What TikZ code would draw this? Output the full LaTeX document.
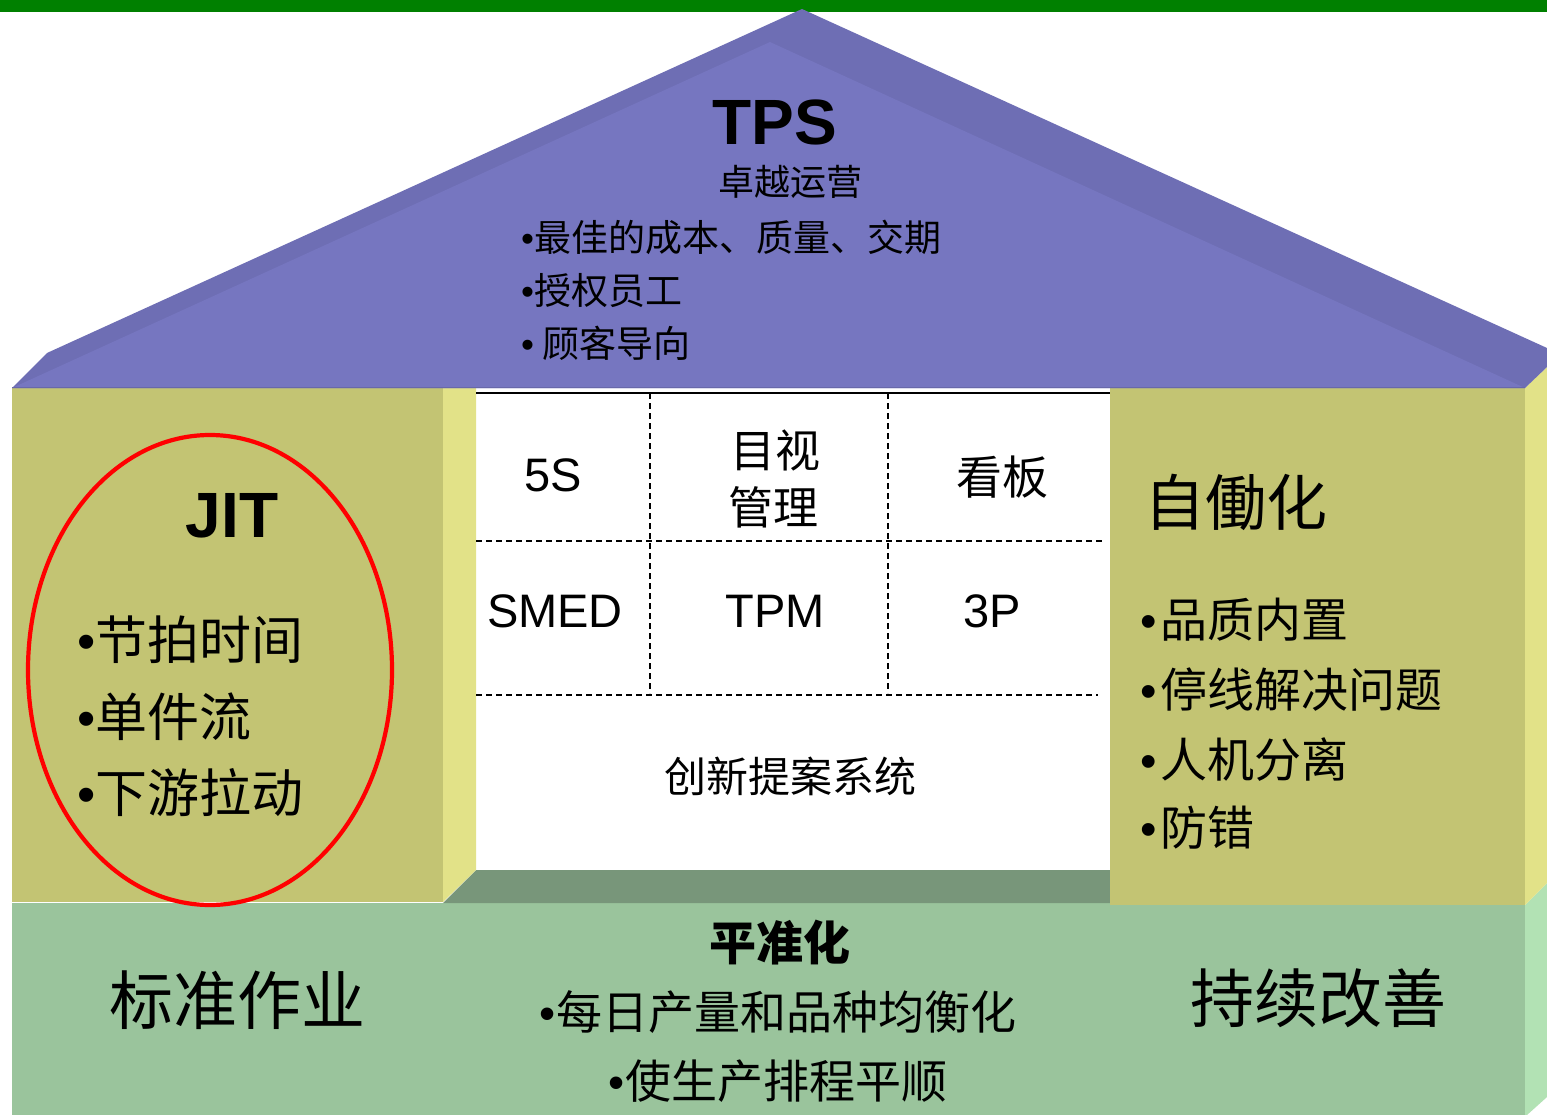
\documentclass[tikz,border=0pt]{standalone}
\usepackage{fontspec}
\setmainfont{Liberation Sans}
\newfontfamily\cjk{Noto Sans CJK SC}
\definecolor{topgreen}{HTML}{008000}
\definecolor{roofface}{HTML}{7676C0}
\definecolor{roofband}{HTML}{6E6EB4}
\definecolor{roofline}{HTML}{6868AA}
\definecolor{pillarface}{HTML}{C3C473}
\definecolor{pillarside}{HTML}{E2E288}
\definecolor{shadowgreen}{HTML}{78967A}
\definecolor{baseface}{HTML}{9AC49C}
\definecolor{baseside}{HTML}{B2E2B4}
\newcommand{\fsz}[1]{\fontsize{#1}{#1}\selectfont}
\tikzset{
  lbl/.style={inner sep=0pt, text=black},
  cell/.style={black, line width=1.4pt, dash pattern=on 6pt off 4pt},
}
\begin{document}
\begin{tikzpicture}[x=1pt,y=-1pt]
\useasboundingbox (0,0) rectangle (1547,1115);
\fill[white] (0,0) rectangle (1547,1115);
% top bar
\fill[topgreen] (0,0) rectangle (1547,12);
% base
\fill[baseface] (12,903) rectangle (1525,1115);
\fill[baseside] (1525,905) -- (1547,883) -- (1547,1097) -- (1527,1115) -- (1525,1115) -- cycle;
% shadow band
\fill[shadowgreen] (476,870) -- (1110,870) -- (1110,903) -- (443,903) -- cycle;
% center white
\fill[white] (476,388) rectangle (1110,870);
% left pillar
\fill[pillarface] (12,388) rectangle (443,902);
\fill[pillarside] (443,388) -- (476,388) -- (476,870) -- (443,902) -- cycle;
% right pillar
\fill[pillarface] (1110,388) rectangle (1525,905);
\fill[pillarside] (1525,388) -- (1547,367) -- (1547,883) -- (1525,905) -- cycle;
% roof
\fill[roofband] (12,388) -- (47,353) -- (802,9) -- (1547,348) -- (1547,367) -- (1525,388) -- cycle;
\fill[roofface] (12,388) -- (770,42) -- (1525,388) -- cycle;
\draw[roofline, line width=1.5pt] (12,387.5) -- (1525,387.5);
% grid in center
\coordinate (gtl) at (476,393);
\coordinate (gtr) at (1110,393);
\draw[black, line width=2pt] (gtl) -- (gtr);
\coordinate (v1t) at (650,393); \coordinate (v1b) at (650,693);
\coordinate (v2t) at (888,393); \coordinate (v2b) at (888,693);
\coordinate (h1l) at (476,541); \coordinate (h1r) at (1105,541);
\coordinate (h2l) at (476,695); \coordinate (h2r) at (1098,695);
\draw[cell] (v1t) -- (v1b);
\draw[cell] (v2t) -- (v2b);
\draw[cell] (h1l) -- (h1r);
\draw[cell] (h2l) -- (h2r);
% red ellipse
\draw[red, line width=4.2pt] (210,670) ellipse [x radius=182, y radius=235];
% roof texts
\node[lbl, font=\fsz{64}\bfseries] (tps) at (775,122) {TPS};
\node[lbl, font=\fsz{36}\cjk] (ex) at (790,182) {卓越运营};
\node[lbl, anchor=west, font=\fsz{37}\cjk] (r1) at (521,237) {{\rmfamily •}最佳的成本、质量、交期};
\node[lbl, anchor=west, font=\fsz{37}\cjk] (r2) at (521,291) {{\rmfamily •}授权员工};
\node[lbl, anchor=west, font=\fsz{37}\cjk] (r3) at (521,343) {{\rmfamily •} 顾客导向};
% cells
\node[lbl, font=\fsz{47}] (c5s) at (553,475) {5S};
\node[lbl, font=\fsz{45}\cjk] (cmv1) at (775,450) {目视};
\node[lbl, font=\fsz{45}\cjk] (cmv2) at (773,507) {管理};
\node[lbl, font=\fsz{46}\cjk] (ckb) at (1002,477) {看板};
\node[lbl, font=\fsz{47}] (csmed) at (555,611) {SMED};
\node[lbl, font=\fsz{47}] (ctpm) at (775,611) {TPM};
\node[lbl, font=\fsz{47}] (c3p) at (992,611) {3P};
\node[lbl, font=\fsz{42}\cjk] (cinn) at (790,776) {创新提案系统};
% left pillar
\node[lbl, font=\fsz{64}\bfseries] (jit) at (232,516) {JIT};
\node[lbl, anchor=west, font=\fsz{52}\cjk] (j1) at (77,640) {{\rmfamily •}节拍时间};
\node[lbl, anchor=west, font=\fsz{52}\cjk] (j2) at (77,717) {{\rmfamily •}单件流};
\node[lbl, anchor=west, font=\fsz{52}\cjk] (j3) at (77,793) {{\rmfamily •}下游拉动};
% right pillar
\node[lbl, anchor=west, font=\fsz{61}\cjk] (jido) at (1144,502) {自働化};
\node[lbl, anchor=west, font=\fsz{47}\cjk] (a1) at (1140,620) {{\rmfamily •\kern4pt}品质内置};
\node[lbl, anchor=west, font=\fsz{47}\cjk] (a2) at (1140,690) {{\rmfamily •\kern4pt}停线解决问题};
\node[lbl, anchor=west, font=\fsz{47}\cjk] (a3) at (1140,760) {{\rmfamily •\kern4pt}人机分离};
\node[lbl, anchor=west, font=\fsz{47}\cjk] (a4) at (1140,828) {{\rmfamily •\kern4pt}防错};
% base
\node[lbl, font=\fsz{64}\cjk] (std) at (237,1000) {标准作业};
\node[lbl, font=\fsz{47}\cjk\bfseries] (hei) at (780,943) {平准化};
\node[lbl, font=\fsz{46}\cjk] (b1) at (778,1012) {{\rmfamily •}每日产量和品种均衡化};
\node[lbl, font=\fsz{46}\cjk] (b2) at (778,1081) {{\rmfamily •}使生产排程平顺};
\node[lbl, font=\fsz{64}\cjk] (kai) at (1318,998) {持续改善};
\end{tikzpicture}
\end{document}
